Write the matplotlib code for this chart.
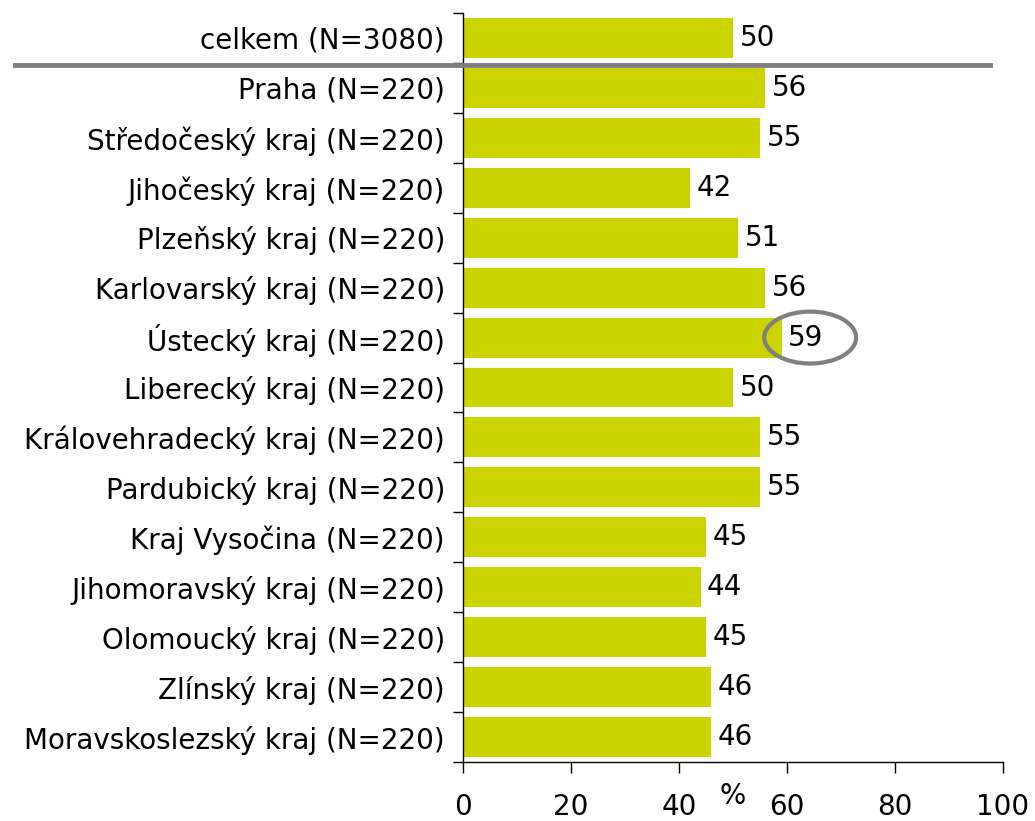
import matplotlib
matplotlib.use("Agg")
import matplotlib.pyplot as plt
from matplotlib.patches import Ellipse
from matplotlib.lines import Line2D
import matplotlib.transforms as mtransforms

categories = [
    "celkem (N=3080)",
    "Praha (N=220)",
    "Středočeský kraj (N=220)",
    "Jihočeský kraj (N=220)",
    "Plzeňský kraj (N=220)",
    "Karlovarský kraj (N=220)",
    "Ústecký kraj (N=220)",
    "Liberecký kraj (N=220)",
    "Královehradecký kraj (N=220)",
    "Pardubický kraj (N=220)",
    "Kraj Vysočina (N=220)",
    "Jihomoravský kraj (N=220)",
    "Olomoucký kraj (N=220)",
    "Zlínský kraj (N=220)",
    "Moravskoslezský kraj (N=220)",
]
values = [50, 56, 55, 42, 51, 56, 59, 50, 55, 55, 45, 44, 45, 46, 46]
x_ticks = [0, 20, 40, 60, 80, 100]
highlight = "Ústecký kraj (N=220)"

bar_color = "#CCD400"
fs = 20

fig = plt.figure(figsize=(10.35, 8.21), dpi=100)
ax = fig.add_axes([463/1035, 1-762/821, 540/1035, 749/821])

ypos = list(range(len(categories)))
ax.barh(ypos, values, height=0.8, color=bar_color, zorder=2)
ax.set_ylim(len(categories)-0.5, -0.5)
ax.set_xlim(0, 100)

ax.set_yticks(ypos)
ax.set_yticklabels(categories, fontsize=fs)
ax.tick_params(axis="y", which="major", length=0, pad=13)
ax.set_yticks([i - 0.5 for i in range(len(categories)+1)], minor=True)
ax.tick_params(axis="y", which="minor", length=7, width=1, direction="out")

ax.set_xticks(x_ticks)
ax.set_xticklabels([str(t) for t in x_ticks], fontsize=fs)
ax.tick_params(axis="x", length=8, width=1, direction="out", pad=14)

for s in ["top", "right"]:
    ax.spines[s].set_visible(False)
for s in ["left", "bottom"]:
    ax.spines[s].set_color("black")
    ax.spines[s].set_linewidth(1)

for y, v in zip(ypos, values):
    ax.text(v + 1.2, y, str(v), va="center", ha="left", fontsize=fs, zorder=4)

ax.set_xlabel("%", fontsize=fs)
ax.xaxis.set_label_coords(0.5, -0.046)
ax.xaxis.label.set_va("center")

# separator line between total and regions
trans = mtransforms.blended_transform_factory(fig.transFigure, ax.transData)
fig.add_artist(Line2D([15/1035, 990/1035], [0.54, 0.54], transform=trans,
                      color="#808080", linewidth=3.5, zorder=5))

# highlight ellipse
hi = categories.index(highlight)
hv = values[hi]
ax.add_patch(Ellipse((hv + 5.3, hi), width=17, height=1.04, fill=False,
                     edgecolor="#808080", linewidth=3, clip_on=False, zorder=5))

fig.savefig("out.png", dpi=100)
